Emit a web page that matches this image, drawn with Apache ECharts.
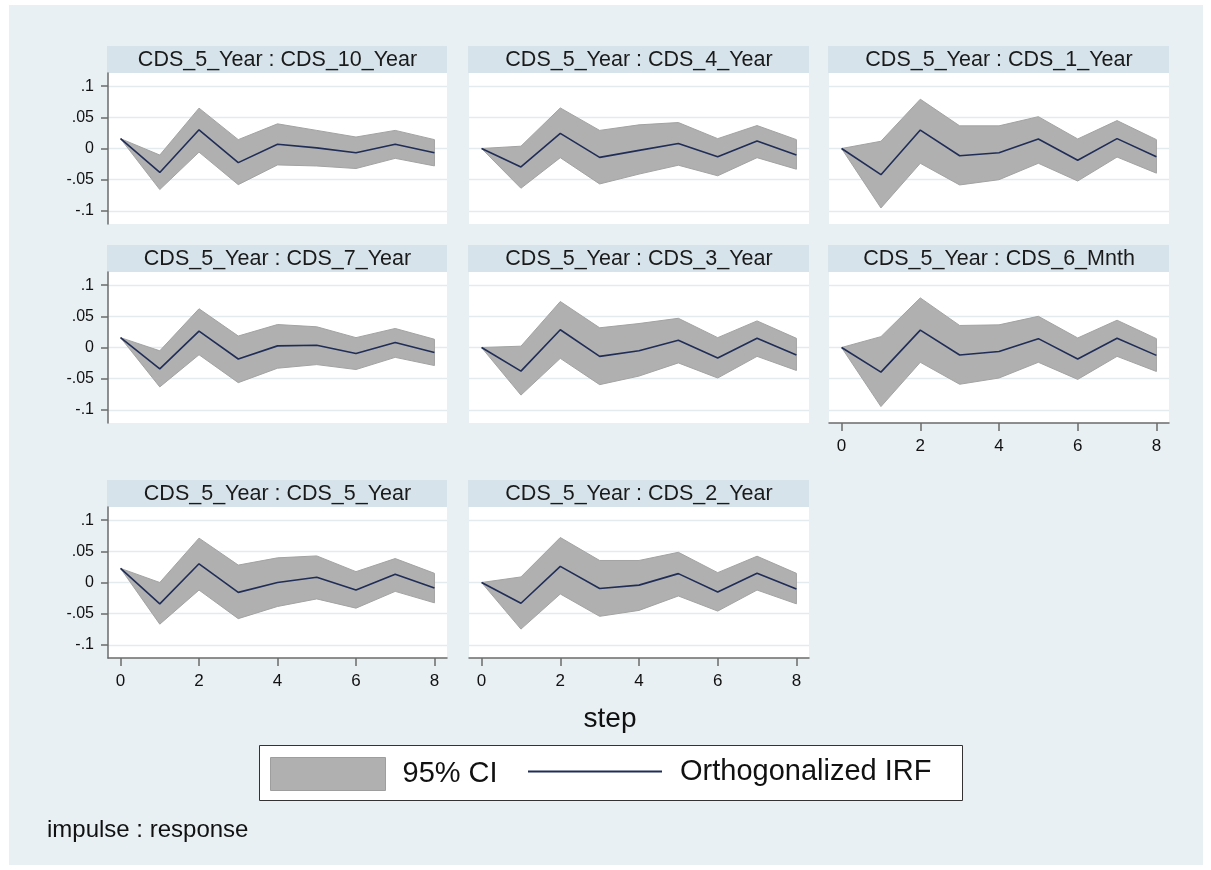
<!DOCTYPE html>
<html><head><meta charset="utf-8">
<script src="https://cdn.jsdelivr.net/npm/echarts@6/dist/echarts.min.js"></script>
<style>html,body{margin:0;padding:0;background:#fff}#chart{width:1211px;height:870px}</style>
</head><body><div id="chart"></div>
<script>
// ---------- data ----------
const steps = [0, 1, 2, 3, 4, 5, 6, 7, 8];
const xTicks = [0, 2, 4, 6, 8];
const yTicks = [-0.1, -0.05, 0, 0.05, 0.1];
const yTickLabels = ['-.1', '-.05', '0', '.05', '.1'];
const panelTitles = [
  'CDS_5_Year : CDS_10_Year', 'CDS_5_Year : CDS_4_Year', 'CDS_5_Year : CDS_1_Year',
  'CDS_5_Year : CDS_7_Year', 'CDS_5_Year : CDS_3_Year', 'CDS_5_Year : CDS_6_Mnth',
  'CDS_5_Year : CDS_5_Year', 'CDS_5_Year : CDS_2_Year'
];
const irf10Y   = [0.0158, -0.0384, 0.0300, -0.0226, 0.0068, 0.0010, -0.0068, 0.0068, -0.0068];
const upper10Y = [0.0158, -0.0105, 0.0647, 0.0142, 0.0395, 0.0290, 0.0184, 0.0290, 0.0142];
const lower10Y = [0.0158, -0.0658, -0.0058, -0.0579, -0.0263, -0.0280, -0.0321, -0.0158, -0.0279];

const irf4Y   = [0, -0.0295, 0.0242, -0.0142, -0.0030, 0.0079, -0.0132, 0.0121, -0.0105];
const upper4Y = [0, 0.0037, 0.0650, 0.0290, 0.0379, 0.0416, 0.0158, 0.0368, 0.0142];
const lower4Y = [0, -0.0637, -0.0147, -0.0568, -0.0410, -0.0268, -0.0437, -0.0147, -0.0332];

const irf1Y   = [0, -0.0420, 0.0295, -0.0116, -0.0068, 0.0153, -0.0189, 0.0158, -0.0132];
const upper1Y = [0, 0.0116, 0.0790, 0.0363, 0.0363, 0.0510, 0.0153, 0.0447, 0.0142];
const lower1Y = [0, -0.0953, -0.0237, -0.0584, -0.0500, -0.0237, -0.0521, -0.0137, -0.0395];

const irf7Y   = [0.0158, -0.0342, 0.0263, -0.0184, 0.0026, 0.0037, -0.0095, 0.0079, -0.0079];
const upper7Y = [0.0158, -0.0053, 0.0621, 0.0184, 0.0368, 0.0332, 0.0158, 0.0305, 0.0132];
const lower7Y = [0.0158, -0.0632, -0.0116, -0.0563, -0.0332, -0.0274, -0.0353, -0.0158, -0.0289];

const irf3Y   = [0, -0.0379, 0.0284, -0.0142, -0.0053, 0.0116, -0.0168, 0.0147, -0.0121];
const upper3Y = [0, 0.0021, 0.0737, 0.0316, 0.0384, 0.0468, 0.0158, 0.0426, 0.0147];
const lower3Y = [0, -0.0763, -0.0174, -0.0595, -0.0458, -0.0247, -0.0489, -0.0142, -0.0368];

const irf6M   = [0, -0.0395, 0.0279, -0.0121, -0.0063, 0.0142, -0.0184, 0.0147, -0.0126];
const upper6M = [0, 0.0174, 0.0795, 0.0353, 0.0363, 0.0500, 0.0153, 0.0437, 0.0142];
const lower6M = [0, -0.0947, -0.0237, -0.0589, -0.0489, -0.0237, -0.0511, -0.0142, -0.0384];

const irf5Y   = [0.0226, -0.0342, 0.0300, -0.0158, 0.0000, 0.0084, -0.0121, 0.0132, -0.0089];
const upper5Y = [0.0226, 0.0000, 0.0711, 0.0279, 0.0395, 0.0426, 0.0174, 0.0384, 0.0147];
const lower5Y = [0.0226, -0.0668, -0.0121, -0.0579, -0.0384, -0.0263, -0.0411, -0.0142, -0.0326];

const irf2Y   = [0, -0.0332, 0.0258, -0.0095, -0.0042, 0.0142, -0.0153, 0.0147, -0.0105];
const upper2Y = [0, 0.0089, 0.0721, 0.0353, 0.0353, 0.0484, 0.0158, 0.0421, 0.0147];
const lower2Y = [0, -0.0747, -0.0184, -0.0542, -0.0447, -0.0216, -0.0458, -0.0121, -0.0342];

const irfList   = [irf10Y, irf4Y, irf1Y, irf7Y, irf3Y, irf6M, irf5Y, irf2Y];
const upperList = [upper10Y, upper4Y, upper1Y, upper7Y, upper3Y, upper6M, upper5Y, upper2Y];
const lowerList = [lower10Y, lower4Y, lower1Y, lower7Y, lower3Y, lower6M, lower5Y, lower2Y];

// ---------- layout / style ----------
const FONT = 'Arial, "Liberation Sans", sans-serif';
const BG = '#e9f0f3', HEAD = '#d7e3ea', GRIDLINE = '#e3ebef';
const BAND = '#b0b0b0', BAND_EDGE = '#a3a3a3', LINE = '#1f2d57', AXIS = '#6b6b6b';
const colLeft = [108, 469, 829], colWidth = [339, 340, 340];
const rowTop = [73, 272, 507], plotH = 151, headH = 27;

const grids = [], xAxes = [], yAxes = [], series = [], graphics = [];
graphics.push({ type: 'rect', z: -10, silent: true, shape: { x: 9, y: 5, width: 1194, height: 860 }, style: { fill: BG } });

panelTitles.forEach((title, i) => {
  const r = Math.floor(i / 3), c = i % 3;
  const left = colLeft[c], width = colWidth[c], top = rowTop[r];
  const showX = r === 2 || i === 5;
  const showY = c === 0;
  grids.push({ left: left, top: top, width: width, height: plotH, show: true, backgroundColor: '#fff', borderWidth: 0, containLabel: false });
  xAxes.push({
    gridIndex: i, type: 'value', min: -0.32, max: 8.32,
    axisLine: { show: showX, onZero: false, lineStyle: { color: AXIS, width: 1.5 } },
    axisTick: { show: showX, length: 8, customValues: xTicks, lineStyle: { color: AXIS, width: 1.5 } },
    axisLabel: { show: showX, customValues: xTicks, margin: 15, fontSize: 17, color: '#111', fontFamily: FONT },
    splitLine: { show: false }
  });
  yAxes.push({
    gridIndex: i, type: 'value', min: -0.121, max: 0.121,
    axisLine: { show: showY, onZero: false, lineStyle: { color: AXIS, width: 1.5 } },
    axisTick: { show: showY, length: 7, customValues: yTicks, lineStyle: { color: AXIS, width: 1.5 } },
    axisLabel: {
      show: showY, customValues: yTicks, margin: 14, fontSize: 16, color: '#111', fontFamily: FONT,
      formatter: v => { const k = yTicks.findIndex(t => Math.abs(t - v) < 1e-9); return k >= 0 ? yTickLabels[k] : ''; }
    },
    splitLine: { show: true, lineStyle: { color: GRIDLINE, width: 1.3 } }
  });
  const lo = lowerList[i], hi = upperList[i], irf = irfList[i];
  series.push({
    type: 'custom', name: '95% CI', xAxisIndex: i, yAxisIndex: i, silent: true,
    itemStyle: { color: BAND },
    data: steps.map((s, k) => [s, lo[k], hi[k]]),
    encode: { x: 0, y: [1, 2] },
    renderItem: (params, api) => {
      if (params.dataIndexInside !== 0) return null;
      const n = steps.length, pts = [];
      for (let k = 0; k < n; k++) pts.push(api.coord([api.value(0, k), api.value(2, k)]));
      for (let k = n - 1; k >= 0; k--) pts.push(api.coord([api.value(0, k), api.value(1, k)]));
      return { type: 'polygon', shape: { points: pts }, style: { fill: BAND, stroke: BAND_EDGE, lineWidth: 1 } };
    },
    z: 2
  });
  series.push({
    type: 'line', name: 'Orthogonalized IRF', xAxisIndex: i, yAxisIndex: i,
    data: steps.map((s, k) => [s, irf[k]]),
    symbol: 'none', lineStyle: { color: LINE, width: 1.6 }, itemStyle: { color: LINE }, z: 3
  });
  graphics.push({ type: 'rect', silent: true, shape: { x: left - 1, y: top - headH, width: width + 1, height: headH }, style: { fill: HEAD } });
  graphics.push({ type: 'text', silent: true, x: left + width / 2, y: top - headH / 2 + 1,
    style: { text: title, fill: '#1a1a1a', font: '21.5px ' + FONT, textAlign: 'center', textVerticalAlign: 'middle' } });
});

graphics.push({ type: 'text', silent: true, x: 610, y: 719, style: { text: 'step', fill: '#111', font: '28px ' + FONT, textAlign: 'center', textVerticalAlign: 'middle' } });
graphics.push({ type: 'rect', silent: true, z: 1, shape: { x: 259.5, y: 745.5, width: 703, height: 55 }, style: { fill: '#fff', stroke: '#333', lineWidth: 1 } });
graphics.push({ type: 'text', silent: true, x: 47, y: 830, style: { text: 'impulse : response', fill: '#111', font: '24px ' + FONT, textVerticalAlign: 'middle' } });

const option = {
  animation: false,
  backgroundColor: '#fff',
  grid: grids, xAxis: xAxes, yAxis: yAxes, series: series,
  graphic: graphics,
  legend: [
    { left: 270, top: 757, padding: 0, itemWidth: 115, itemHeight: 33, selectedMode: false, z: 10,
      data: [{ name: '95% CI', icon: 'rect', itemStyle: { color: BAND, borderColor: '#9e9e9e', borderWidth: 1 } }],
      textStyle: { fontSize: 29, color: '#111', fontFamily: FONT, padding: [0, 0, 0, 12] } },
    { left: 528, top: 757, padding: 0, itemWidth: 134, itemHeight: 33, selectedMode: false, z: 10,
      data: [{ name: 'Orthogonalized IRF', icon: 'path://M0,0 L134,0 L134,2 L0,2 Z', itemStyle: { color: LINE } }],
      textStyle: { fontSize: 29, color: '#111', fontFamily: FONT, padding: [0, 0, 0, 13] } }
  ]
};
const chart = echarts.init(document.getElementById('chart'), null, { renderer: 'canvas' });
chart.setOption(option);
</script></body></html>
